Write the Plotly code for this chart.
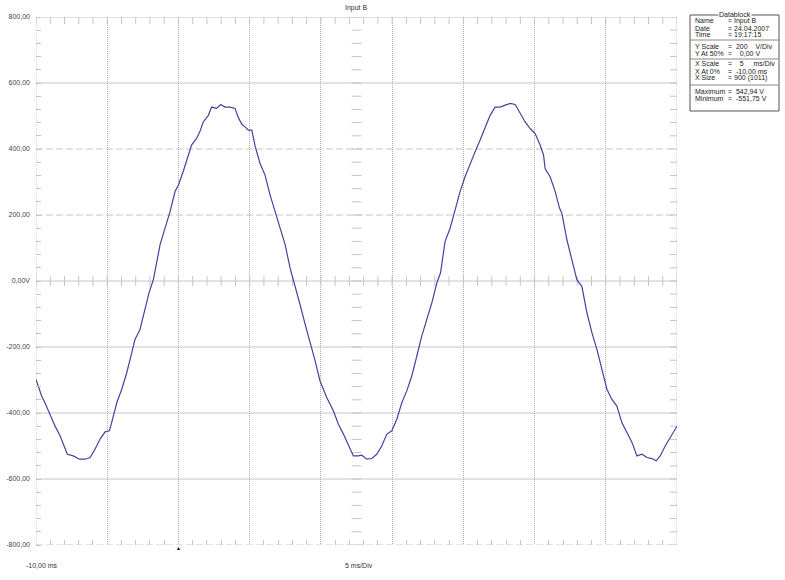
import plotly.graph_objects as go

# ---- data (time in ms, voltage in V) ----
t_ms = [-10.0, -9.6, -9.37, -9.0, -8.67, -8.31, -8.08, -7.8, -7.38, -6.96, -6.56, -6.2,
        -5.86, -5.5, -5.15, -4.85, -4.69, -4.33, -3.98, -3.63, -3.28, -3.05, -2.7, -2.35,
        -2.06, -1.76, -1.29, -0.94, -0.59, -0.24, 0.0, 0.33, 0.57, 0.92, 1.27, 1.5, 1.74,
        2.1, 2.33, 2.68, 2.97, 3.27, 3.62, 3.97, 4.21, 4.45, 4.68, 4.91, 5.15, 5.39, 5.73,
        6.08, 6.43, 6.78, 7.13, 7.49, 7.84, 8.19, 8.54, 8.9, 9.24, 9.6, 9.94, 10.41, 10.88,
        11.23, 11.58, 11.93, 12.28, 12.63, 12.87, 13.22, 13.57, 13.92, 14.27, 14.63, 14.98,
        15.33, 15.68, 16.03, 16.38, 16.73, 17.08, 17.43, 17.79, 18.14, 18.4, 18.72, 19.07,
        19.42, 19.77, 20.12, 20.48, 20.83, 21.18, 21.53, 21.88, 22.23, 22.58, 22.93, 23.29,
        23.64, 23.99, 24.34, 24.69, 25.04, 25.39, 25.63, 25.74, 26.1, 26.45, 26.75, 26.92,
        27.27, 27.62, 27.97, 28.32, 28.68, 29.03, 29.38, 29.73, 30.08, 30.43, 30.78, 31.13,
        31.48, 31.84, 32.19, 32.54, 32.89, 33.24, 33.54, 33.82, 34.17, 34.52, 34.87, 35.0]
volts = [-298, -349, -369, -409, -439, -469, -495, -525, -530, -540, -540, -535,
         -510, -479, -457, -454, -429, -369, -328, -278, -218, -177, -147, -87,
         -35, 4, 110, 160, 210, 271, 291, 331, 366, 412, 432, 452, 482,
         502, 527, 523, 535, 527, 527, 523, 495, 475, 467, 457, 457, 407, 356,
         321, 261, 210, 155, 110, 39, -21, -72, -132, -182, -243, -303, -353, -394,
         -434, -464, -495, -530, -530, -528, -540, -538, -525, -500, -464, -454,
         -419, -369, -333, -288, -228, -167, -117, -66, -6, 25, 120, 160,
         215, 271, 316, 356, 392, 427, 462, 502, 527, 527, 533, 538,
         535, 508, 482, 462, 447, 412, 382, 341, 315, 271, 221, 205,
         125, 64, 4, -16, -97, -157, -208, -268, -328, -359, -379, -429,
         -459, -489, -530, -525, -535, -538, -545, -530, -500, -474, -449, -440]

y_ticks = [800, 600, 400, 200, 0, -200, -400, -600, -800]
y_labels = ["800,00", "600,00", "400,00", "200,00", "0,00V", "-200,00", "-400,00", "-600,00", "-800,00"]
y_dash = ["solid", "solid", "7px,3px", "7px,3px", "solid", "solid", "solid", "solid", "7px,3px"]

x_minor = list(range(-10, 36))
y_minor = list(range(-800, 801, 40))

block_labels = ["Name", "Date", "Time", "Y Scale", "Y At 50%", "X Scale", "X At 0%", "X Size", "Maximum", "Minimum"]
block_values = ["= Input B", "= 24.04.2007", "= 19:17:15", "=  200    V/Div", "=    0,00 V",
                "=    5     ms/Div", "=  -10,00 ms", "= 900 (1011)", "=  542,94 V", "=  -551,75 V"]
block_rows_px = [21, 28, 35, 46, 53, 64, 71, 78, 91, 99]
block_seps_px = [40, 59, 85]

W, H = 785, 580
L, R, T, B = 36, 677, 17, 545


def px(xp):
    return (xp - L) / (R - L)


def py(yp):
    return (B - yp) / (B - T)


fig = go.Figure()

tick_marker_v = dict(symbol="line-ns-open", size=7, color="#c4c4c4", line=dict(width=1, color="#c4c4c4"))
tick_marker_h = dict(symbol="line-ew-open", size=7, color="#c4c4c4", line=dict(width=1, color="#c4c4c4"))
edge_marker_v = dict(symbol="line-ns-open", size=10, color="#c4c4c4", line=dict(width=1, color="#c4c4c4"))
edge_marker_h = dict(symbol="line-ew-open", size=10, color="#c4c4c4", line=dict(width=1, color="#c4c4c4"))

# center-cross minor ticks (oscilloscope style)
fig.add_trace(go.Scatter(x=x_minor, y=[0] * len(x_minor), mode="markers", marker=tick_marker_v,
                         hoverinfo="skip", showlegend=False))
fig.add_trace(go.Scatter(x=[12.5] * len(y_minor), y=y_minor, mode="markers", marker=tick_marker_h,
                         hoverinfo="skip", showlegend=False))
# top and right edge minor ticks (clipped to half -> inside ticks)
fig.add_trace(go.Scatter(x=x_minor, y=[800] * len(x_minor), mode="markers", marker=edge_marker_v,
                         hoverinfo="skip", showlegend=False, cliponaxis=True))
fig.add_trace(go.Scatter(x=[35] * len(y_minor), y=y_minor, mode="markers", marker=edge_marker_h,
                         hoverinfo="skip", showlegend=False, cliponaxis=True))

# waveform
fig.add_trace(go.Scatter(x=t_ms, y=volts, mode="lines",
                         line=dict(color="#43449c", width=1.2),
                         hoverinfo="skip", showlegend=False))

shapes = []
for v, d in zip(y_ticks, y_dash):
    shapes.append(dict(type="line", xref="paper", x0=0, x1=1, yref="y", y0=v, y1=v,
                       line=dict(color="#c6c6c6", width=1, dash=d), layer="below"))
for xv in [-10, 35]:
    shapes.append(dict(type="line", xref="x", x0=xv, x1=xv, yref="paper", y0=0, y1=1,
                       line=dict(color="#b0b0b0", width=1, dash="1px,1px"), layer="below"))

# datablock box
shapes.append(dict(type="rect", xref="paper", yref="paper", x0=px(690), x1=px(779), y0=py(111), y1=py(15),
                   line=dict(color="#555555", width=1), fillcolor="white"))
for s in block_seps_px:
    shapes.append(dict(type="line", xref="paper", yref="paper", x0=px(690), x1=px(779), y0=py(s), y1=py(s),
                       line=dict(color="#888888", width=1)))

FS = 7
annotations = []
annotations.append(dict(text="Input B", xref="paper", yref="paper", x=0.5, y=py(8), showarrow=False,
                        font=dict(size=FS, color="#333333"), xanchor="center", yanchor="middle"))
annotations.append(dict(text="-10,00 ms", xref="paper", yref="paper", x=px(24), y=py(565), showarrow=False,
                        font=dict(size=FS, color="#333333"), xanchor="left", yanchor="middle"))
annotations.append(dict(text="5 ms/Div", xref="paper", yref="paper", x=px(343), y=py(565), showarrow=False,
                        font=dict(size=FS, color="#333333"), xanchor="left", yanchor="middle"))
annotations.append(dict(text="▲", xref="x", yref="paper", x=0, y=py(548), showarrow=False,
                        font=dict(size=5, color="#000000"), xanchor="center", yanchor="middle"))
annotations.append(dict(text="Datablock", xref="paper", yref="paper", x=px(734.5), y=py(15), showarrow=False,
                        font=dict(size=FS, color="#222222"), bgcolor="white", borderpad=0,
                        xanchor="center", yanchor="middle"))
for lab, val, r in zip(block_labels, block_values, block_rows_px):
    annotations.append(dict(text=lab, xref="paper", yref="paper", x=px(693), y=py(r), showarrow=False,
                            font=dict(size=FS, color="#222222"), xanchor="left", yanchor="middle"))
    annotations.append(dict(text=val.replace(" ", "&nbsp;"), xref="paper", yref="paper", x=px(726), y=py(r),
                            showarrow=False, font=dict(size=FS, color="#222222"), xanchor="left", yanchor="middle"))

fig.update_layout(
    width=W, height=H,
    margin=dict(l=L, r=W - R, t=T, b=H - B, autoexpand=False),
    paper_bgcolor="white", plot_bgcolor="white",
    font=dict(family="Liberation Sans, Arial, sans-serif", size=FS, color="#333333"),
    shapes=shapes, annotations=annotations, showlegend=False,
    xaxis=dict(range=[-10, 35], dtick=5, tick0=-10, showgrid=True, gridcolor="#b0b0b0", griddash="1px,1px",
               gridwidth=1, zeroline=False, showticklabels=False, ticks="", automargin=False,
               showline=False,
               minor=dict(dtick=1, tick0=-10, ticks="inside", ticklen=5, tickcolor="#c4c4c4", showgrid=False)),
    yaxis=dict(range=[-800, 800], tickvals=y_ticks, ticktext=y_labels, showgrid=False, zeroline=False,
               ticks="", ticklabelstandoff=5, tickfont=dict(size=FS, color="#444444"), automargin=False,
               showline=False,
               minor=dict(dtick=40, tick0=-800, ticks="inside", ticklen=5, tickcolor="#c4c4c4", showgrid=False)),
)

fig.write_html("out.html", config={"displayModeBar": False},
               post_script="document.body.style.margin='0px';document.body.style.padding='0px';")
